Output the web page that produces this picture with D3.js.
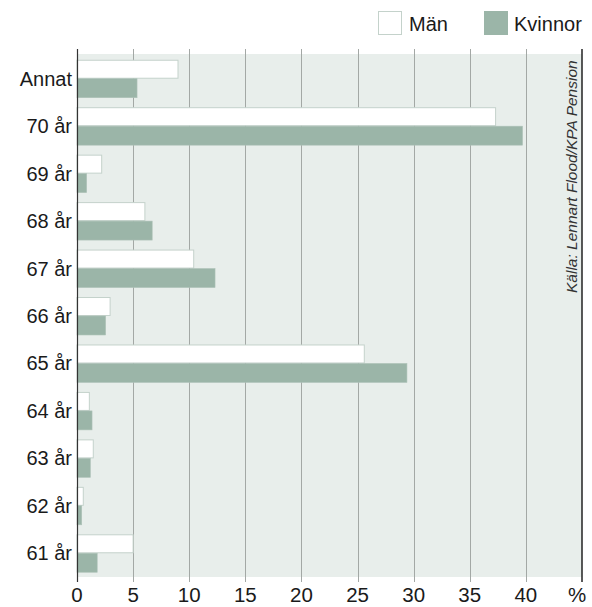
<!DOCTYPE html>
<html><head><meta charset="utf-8">
<script src="https://cdn.jsdelivr.net/npm/d3@7"></script>
<style>body{margin:0;background:#fff}svg{display:block}</style>
</head><body>
<script>
const categories = ["Annat","70 år","69 år","68 år","67 år","66 år","65 år","64 år","63 år","62 år","61 år"];
const man     = [9.0, 37.3, 2.2, 6.05, 10.4, 2.95, 25.6, 1.1, 1.45, 0.56, 5.0];
const kvinnor = [5.35, 39.7, 0.86, 6.7, 12.3, 2.55, 29.4, 1.34, 1.19, 0.42, 1.8];
const tickValues = [0,5,10,15,20,25,30,35,40,45];
const tickLabels = ["0","5","10","15","20","25","30","35","40","%"];
const seriesNames = ["Män","Kvinnor"];
const source = "Källa: Lennart Flood/KPA Pension";

const W=592,H=607;
const font="'Liberation Sans', Arial, sans-serif";
const svg=d3.select("body").append("svg").attr("width",W).attr("height",H);
const x=d3.scaleLinear().domain([0,45]).range([77,582]);
const y=d3.scaleBand().domain(categories).range([55,577]).paddingInner(0.2).paddingOuter(0.1);
const sub=d3.scaleBand().domain(seriesNames).range([0,y.bandwidth()]);

// background
svg.append("rect").attr("x",x(0)).attr("y",54).attr("width",x(45)-x(0)).attr("height",577-54).attr("fill","#e8eeeb");
// gridlines
svg.append("g").selectAll("line").data(tickValues.filter(d=>d>0&&d<45)).join("line")
  .attr("x1",d=>Math.round(x(d))+0.5).attr("x2",d=>Math.round(x(d))+0.5).attr("y1",49).attr("y2",582)
  .attr("stroke","#a3a8a5").attr("stroke-width",1);

// bars
const g=svg.append("g");
categories.forEach((c,i)=>{
  g.append("rect").attr("x",x(0)).attr("y",y(c)+sub("Män")+0.5).attr("width",x(man[i])-x(0)).attr("height",sub.bandwidth()-1)
    .attr("fill","#ffffff").attr("stroke","#c4d2cb").attr("stroke-width",1);
  g.append("rect").attr("x",x(0)).attr("y",y(c)+sub("Kvinnor")).attr("width",x(kvinnor[i])-x(0)).attr("height",sub.bandwidth())
    .attr("fill","#9bb5a8").attr("stroke","#aec2b8").attr("stroke-width",0.6);
});

// axis lines
svg.append("line").attr("x1",x(0)+0.5).attr("x2",x(0)+0.5).attr("y1",49).attr("y2",582).attr("stroke","#333").attr("stroke-width",1.2);
svg.append("line").attr("x1",x(45)).attr("x2",x(45)).attr("y1",49).attr("y2",582).attr("stroke","#222").attr("stroke-width",1.5);

// x tick labels
svg.append("g").selectAll("text").data(tickValues).join("text")
  .attr("x",(d,i)=>x(d)-(d===45?5:0)).attr("y",602).attr("text-anchor","middle")
  .attr("font-family",font).attr("font-size",20.5).attr("fill","#1a1a1a")
  .text((d,i)=>tickLabels[i]);

// category labels
svg.append("g").selectAll("text").data(categories).join("text")
  .attr("x",72).attr("y",d=>y(d)+y.bandwidth()/2+7).attr("text-anchor","end")
  .attr("font-family",font).attr("font-size",20).attr("fill","#1a1a1a").text(d=>d);

// legend
const leg=[{n:"Män",bx:378,tx:409,fill:"#fff",stroke:"#c4d2cb"},{n:"Kvinnor",bx:484,tx:514,fill:"#9bb5a8",stroke:"#9bb5a8"}];
leg.forEach(l=>{
  svg.append("rect").attr("x",l.bx+0.5).attr("y",11.5).attr("width",23).attr("height",23).attr("fill",l.fill).attr("stroke",l.stroke);
  svg.append("text").attr("x",l.tx).attr("y",30.5).attr("font-family",font).attr("font-size",20).attr("fill","#1a1a1a").text(l.n);
});

// source
svg.append("text").attr("transform","translate(577,293) rotate(-90)")
  .attr("font-family",font).attr("font-size",15.5).attr("font-style","italic").attr("fill","#333").text(source);
</script>
</body></html>
